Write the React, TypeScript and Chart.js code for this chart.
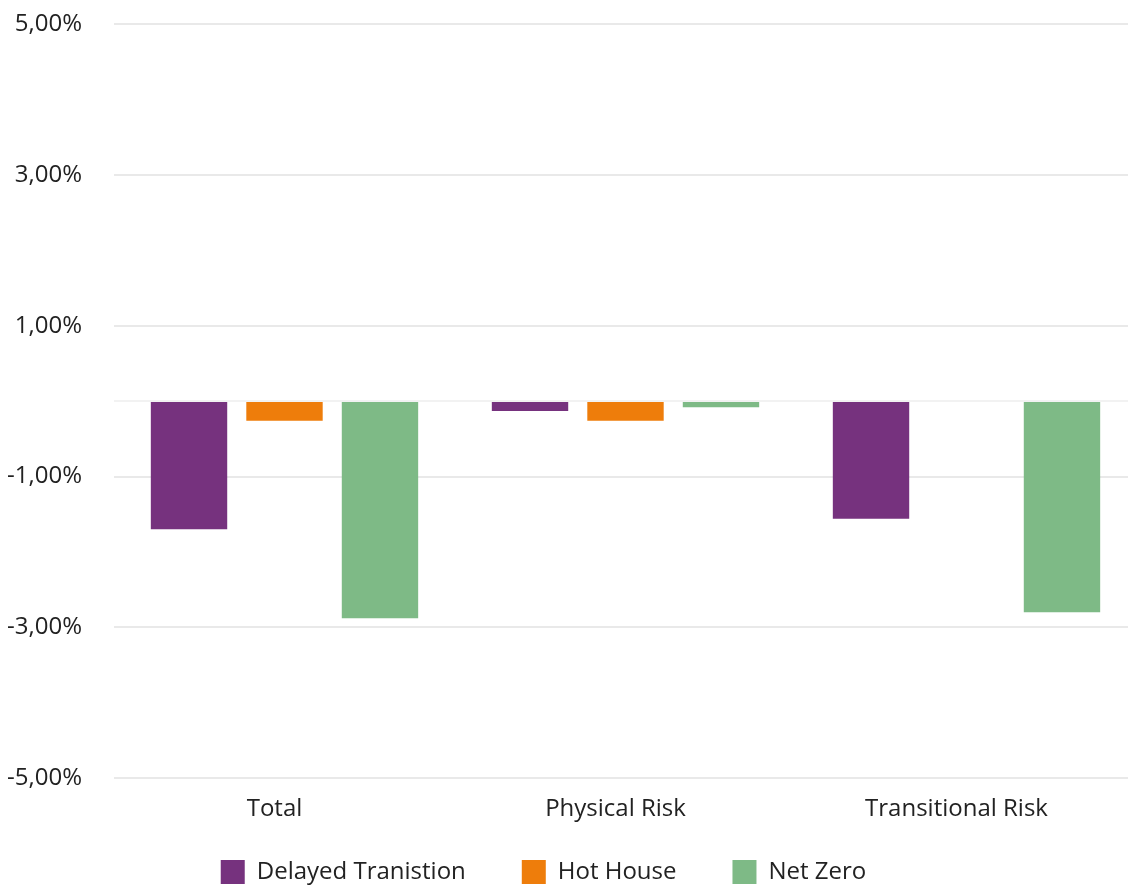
import React, { useEffect, useRef } from "react";
import { Chart, registerables } from "chart.js";

Chart.register(...registerables);

const categories = ["Total", "Physical Risk", "Transitional Risk"];
const delayedTransition = [-1.7, -0.13, -1.56];
const hotHouse = [-0.26, -0.26, 0];
const netZero = [-2.88, -0.08, -2.8];
const yTicks = [-5, -3, -1, 1, 3, 5];

const FONT = { family: "Open Sans", size: 24 };

const legendAdjust = {
  id: "legendAdjust",
  beforeLayout(chart: any) {
    const lg = chart.legend;
    if (lg && !lg._patched) {
      const orig = lg.fit.bind(lg);
      lg.fit = function () {
        orig();
        this.height = this.height - 46;
      };
      lg._patched = true;
    }
  },
  afterLayout(chart: any) {
    const lg = chart.legend;
    if (lg) {
      lg.top -= 37;
      lg.left -= 29;
      lg.right -= 29;
    }
  },
};

export default function App() {
  const ref = useRef<HTMLCanvasElement | null>(null);
  useEffect(() => {
    document.body.style.margin = "0";
    document.body.style.overflow = "hidden";
    if (!ref.current) return;
    const chart = new Chart(ref.current, {
      type: "bar",
      data: {
        labels: categories,
        datasets: [
          { label: "Delayed Tranistion", data: delayedTransition, backgroundColor: "#76327e" },
          { label: "Hot House", data: hotHouse, backgroundColor: "#ee7d0b" },
          { label: "Net Zero", data: netZero, backgroundColor: "#7eba86" },
        ],
      },
      plugins: [legendAdjust],
      options: {
        animation: false,
        responsive: false,
        maintainAspectRatio: false,
        layout: { padding: { top: 0, left: 8, right: 0, bottom: 0 } },
        datasets: { bar: { categoryPercentage: 0.84, barPercentage: 0.8 } },
        plugins: {
          legend: {
            position: "bottom",
            labels: {
              boxWidth: 24,
              boxHeight: 24,
              padding: 56,
              color: "#222",
              font: FONT,
            },
          },
          tooltip: { enabled: false },
        },
        scales: {
          x: {
            grid: { display: false, drawTicks: false },
            border: { display: false },
            ticks: { color: "#222", font: FONT, padding: 17, labelOffset: -10 },
          },
          y: {
            min: -5,
            max: 5,
            afterBuildTicks: (axis: any) => {
              axis.ticks = [...yTicks, 0].sort((a, b) => a - b).map((v) => ({ value: v }));
            },
            afterFit: (scale: any) => {
              scale.width = 106;
              scale.paddingTop = 24;
              scale.paddingBottom = 0;
            },
            grid: {
              drawTicks: false,
              lineWidth: 2,
              color: (ctx: any) => (ctx.tick && ctx.tick.value === 0 ? "#f2f2f2" : "#e9e9e9"),
            },
            border: { display: false },
            ticks: {
              color: "#222",
              font: FONT,
              padding: 32,
              callback: (v: any) => (v === 0 ? "" : Number(v).toFixed(2).replace(".", ",") + "%"),
            },
          },
        },
      },
    });
    return () => chart.destroy();
  }, []);
  return (
    <div style={{ position: "absolute", left: 0, top: 0 }}>
      <canvas ref={ref} width={1137} height={885} style={{ width: 1137, height: 885 }} />
    </div>
  );
}
